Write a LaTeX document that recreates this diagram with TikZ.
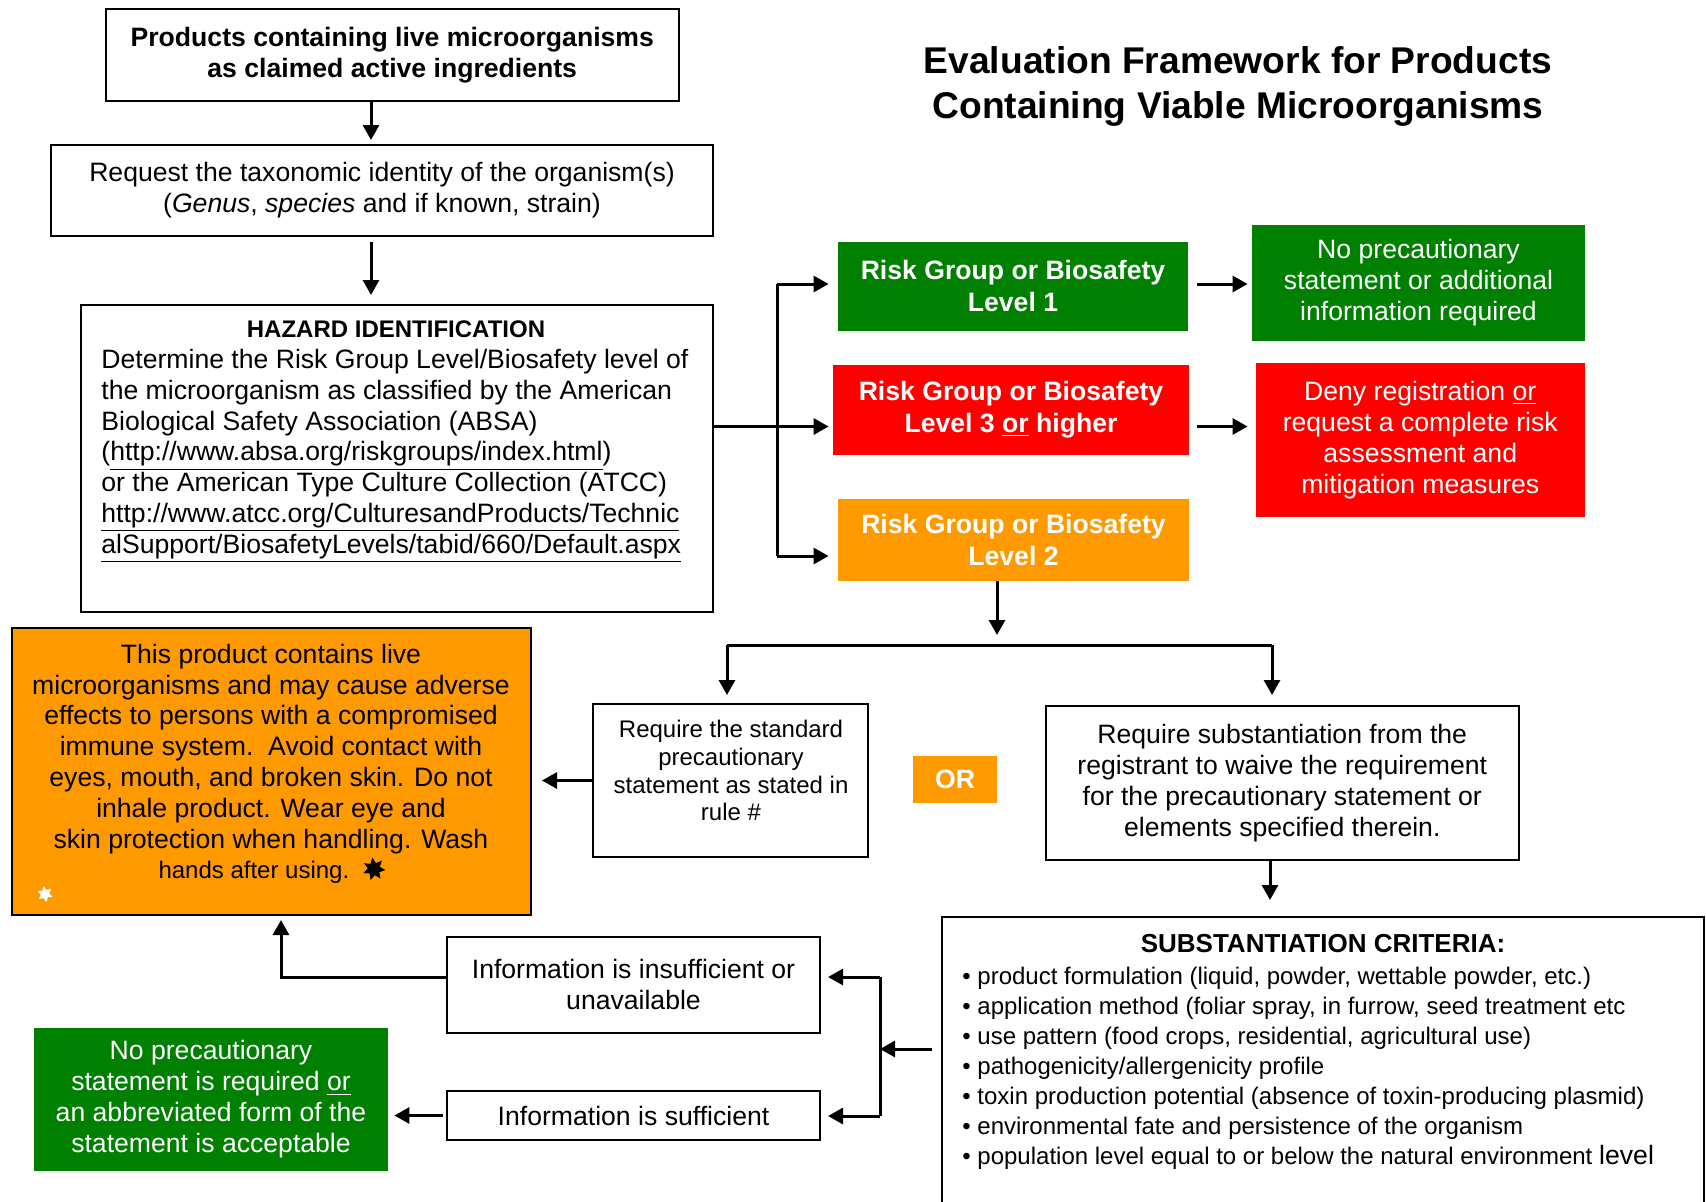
\documentclass[tikz,border=0pt]{standalone}
\usepackage{fontspec}
\setmainfont{Liberation Sans}
\newfontfamily\symfont{DejaVu Sans}
\usetikzlibrary{arrows.meta,shapes.geometric}
\definecolor{rgreen}{RGB}{0,128,0}
\definecolor{rred}{RGB}{255,0,0}
\definecolor{rorange}{RGB}{255,153,0}
\newcommand\fmain{\fontsize{13.3}{15.5}\selectfont}
\newcommand\fsmall{\fontsize{12}{13.9}\selectfont}
\begin{document}
\begin{tikzpicture}[x=0.5pt,y=-0.5pt,
  box/.style={draw=black,line width=1pt,inner sep=0pt,align=center,font=\fmain},
  cbox/.style={inner sep=0pt,align=center,text=white,font=\fmain},
  txt/.style={inner sep=0pt,align=center},
  starmark/.style={star,star point ratio=1.85,inner sep=0pt,draw=none},
  ln/.style={line width=1.5pt},
  arr/.style={line width=1.5pt,-{Triangle[length=7.5pt,width=8pt]}},
]
\useasboundingbox (0,0) rectangle (1706,1201);
\fill[white] (0,0) rectangle (1706,1201);
\clip (0,0) rectangle (1706,1201);

% title
\node[txt,font=\fontsize{18.6}{22.5}\selectfont\bfseries] (title) at (1238,86.5)
  {Evaluation Framework for Products\\Containing Viable Microorganisms};

% left column
\node[box,font=\fmain\bfseries,minimum width=286.75pt,minimum height=46.15pt] (b1) at (392.25,54.85)
  {Products containing live microorganisms\\as claimed active ingredients};
\node[box,minimum width=331pt,minimum height=45.5pt] (b2) at (382,190.5)
  {Request the taxonomic identity of the organism(s)\\(\textit{Genus}, \textit{species} and if known, strain)};
\node[box,minimum width=316.25pt,minimum height=153.25pt] (haz) at (396.75,458.25) {};
\node[txt,font=\fontsize{12}{14}\selectfont\bfseries] (hazhead) at (396,329.5) {HAZARD IDENTIFICATION};
\node[txt,align=left,anchor=west,font=\fontsize{13.3}{15.4}\selectfont] (hazbody) at (101,456)
  {Determine the Risk Group Level/Biosafety level of\\
   the microorganism as classified by the American\\
   Biological Safety Association (ABSA)\\
   (\underline{http://www.absa.org/riskgroups/index.html})\\
   or the American Type Culture Collection (ATCC)\\
   \underline{http://www.atcc.org/CulturesandProducts/Technic}\\
   \underline{alSupport/BiosafetyLevels/tabid/660/Default.aspx}};

% risk group boxes
\node[cbox,fill=rgreen,font=\fontsize{13.3}{16}\selectfont\bfseries,minimum width=175pt,minimum height=44.75pt] (rg1) at (1013,286.25)
  {Risk Group or Biosafety\\Level 1};
\node[cbox,fill=rred,font=\fontsize{13.3}{16}\selectfont\bfseries,minimum width=178pt,minimum height=45.25pt] (rg3) at (1011,409.75)
  {Risk Group or Biosafety\\Level 3 \underline{or} higher};
\node[cbox,fill=rorange,font=\fontsize{13.3}{16}\selectfont\bfseries,minimum width=175.5pt,minimum height=41pt] (rg2) at (1013.5,540)
  {Risk Group or Biosafety\\Level 2};
\node[cbox,fill=rgreen,minimum width=166.5pt,minimum height=57.75pt] (g1) at (1418.5,282.75)
  {No precautionary\\statement or additional\\information required};
\node[cbox,fill=rred,minimum width=164.75pt,minimum height=77pt] (r2) at (1420.25,440)
  {Deny registration \underline{or}\\request a complete risk\\assessment and\\mitigation measures};

% middle row
\node[box,minimum width=137.5pt,minimum height=76.5pt] (std) at (730.5,780.5) {};
\node[txt,font=\fsmall] (stdtext) at (731,770.7)
  {Require the standard\\precautionary\\statement as stated in\\rule \#};
\node[cbox,fill=rorange,font=\fmain\bfseries,minimum width=42pt,minimum height=23.5pt] (or) at (955,779.5) {OR};
\node[box,minimum width=236.75pt,minimum height=76.75pt] (req) at (1282.25,782.75)
  {Require substantiation from the\\registrant to waive the requirement\\for the precautionary statement or\\elements specified therein.};
\node[box,fill=rorange,minimum width=259.5pt,minimum height=143.5pt] (orange) at (271.5,771.5) {};
\node[txt,font=\fontsize{13.3}{15.4}\selectfont] (orangetext) at (271,764)
  {This product contains live\\
   microorganisms and may cause adverse\\
   effects to persons with a compromised\\
   immune system.\ \ Avoid contact with\\
   eyes, mouth, and broken skin. Do not\\
   inhale product. Wear eye and\\
   skin protection when handling. Wash\\
   {\fontsize{12}{15.4}\selectfont hands after using.}\ {\symfont\fontsize{16}{15}\selectfont\hphantom{✶}}};
\node[starmark,star points=7,fill=black,minimum size=11.5pt,rotate=8] (bstar) at (374,869) {};
\node[starmark,star points=6,fill=white,minimum size=8pt,rotate=10] (wstar) at (45,894) {};

% bottom row
\node[box,minimum width=186.5pt,minimum height=47.75pt] (ins) at (633.5,984.75)
  {Information is insufficient or\\unavailable};
\node[box,minimum width=186.5pt,minimum height=24.5pt] (suf) at (633.5,1115.5)
  {Information is sufficient};
\node[cbox,fill=rgreen,minimum width=177pt,minimum height=71.5pt] (g2) at (211,1099.5)
  {No precautionary\\statement is required \underline{or}\\an abbreviated form of the\\statement is acceptable};
\node[box,minimum width=381pt,minimum height=156.5pt] (crit) at (1323,1073.5) {};
\node[txt,font=\fontsize{13}{15}\selectfont\bfseries] (crithead) at (1323,944) {SUBSTANTIATION CRITERIA:};
\node[txt,align=left,anchor=west,font=\fontsize{12}{15}\selectfont] (critbody) at (962,1068.5)
  {• product formulation (liquid, powder, wettable powder, etc.)\\
   • application method (foliar spray, in furrow, seed treatment etc\\
   • use pattern (food crops, residential, agricultural use)\\
   • pathogenicity/allergenicity profile\\
   • toxin production potential (absence of toxin-producing plasmid)\\
   • environmental fate and persistence of the organism\\
   • population level equal to or below the natural environment {\fontsize{13.3}{15}\selectfont level}};

% junction coordinates
\coordinate (xa) at (371,0);
\coordinate (j0) at (777,426.5);
\coordinate (j1) at (777,284);
\coordinate (j2) at (777,556);
\coordinate (k) at (997,645);
\coordinate (kl) at (727,645);
\coordinate (kr) at (1272,645);
\coordinate (xc) at (1270,0);
\coordinate (m) at (880,1049);
\coordinate (m1) at (880,977);
\coordinate (m2) at (880,1116);
\coordinate (n) at (281,977);

% connectors
\draw[arr,shorten >=2pt] (b1.south -| xa) -- (b2.north -| xa);
\draw[arr,shorten <=2.5pt,shorten >=4.5pt] (b2.south -| xa) -- (haz.north -| xa);
\draw[arr,shorten >=2pt] (haz.east |- j0) -- (rg3.west |- j0);
\draw[ln] (j1) -- (j2);
\draw[arr,shorten >=4.5pt] (j1) -- (rg1.west |- j1);
\draw[arr,shorten >=4.5pt] (j2) -- (rg2.west |- j2);
\draw[arr,shorten <=4.5pt,shorten >=2pt] (rg1.east |- j1) -- (g1.west |- j1);
\draw[arr,shorten <=4pt,shorten >=3.75pt] (rg3.east |- j0) -- (r2.west |- j0);
\draw[arr,shorten >=5pt] (rg2.south -| k) -- (k);
\draw[ln] (kl) -- (kr);
\draw[arr,shorten >=4pt] (kl) -- (std.north -| kl);
\draw[arr,shorten >=5pt] (kr) -- (req.north -| kr);
\draw[arr,shorten >=5pt] (std.west) -- (orange.east |- std.west);
\draw[arr,shorten >=8pt] (req.south -| xc) -- (crit.north -| xc);
\draw[arr,shorten <=4.5pt] (crit.west |- m) -- (m);
\draw[ln] (m1) -- (m2);
\draw[arr,shorten >=3.5pt] (m1) -- (ins.east |- m1);
\draw[arr,shorten >=3.5pt] (m2) -- (suf.east |- m2);
\draw[arr,shorten >=2pt] (ins.west |- n) -- (n) -- (orange.south -| n);
\draw[arr,shorten <=1.5pt,shorten >=3pt] (suf.west) -- (g2.east |- suf.west);
\end{tikzpicture}
\end{document}
